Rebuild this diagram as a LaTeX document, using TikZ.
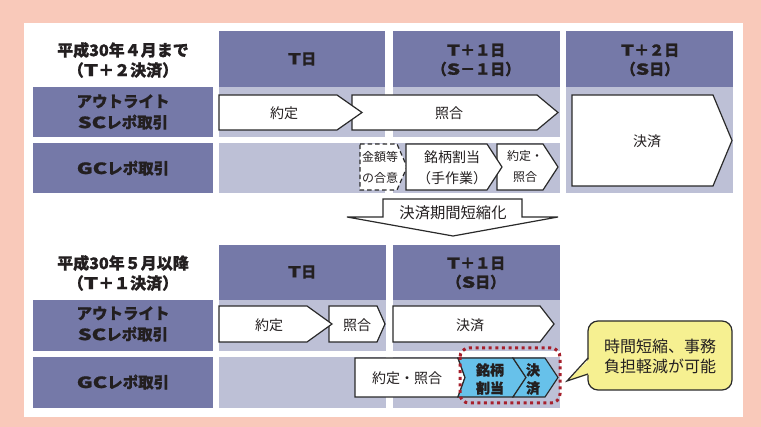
\documentclass[tikz,border=0pt]{standalone}
\usepackage{graphicx}
\usepackage{fontspec}
\setmainfont{Noto Sans CJK JP}[BoldFeatures={FakeBold=0.9}]
\definecolor{pinkc}{HTML}{F9C9BA}
\definecolor{hdrc}{HTML}{7579A8}
\definecolor{bandc}{HTML}{BDC0D6}
\definecolor{txtc}{HTML}{231F20}
\definecolor{linec}{HTML}{2A2A2A}
\definecolor{bluec}{HTML}{67C1EA}
\definecolor{redc}{HTML}{A6202C}
\definecolor{yelc}{HTML}{F6F091}
\newcommand\wl[1]{\scalebox{1.4}[1]{#1}}
\tikzset{
  arrw/.style={fill=white, draw=linec, line width=1.2pt, line join=miter},
  bluearrw/.style={fill=bluec, draw=linec, line width=1.2pt, line join=miter},
  dashbox/.style={fill=white, draw=linec, line width=1.2pt, dash pattern=on 4.5pt off 3pt},
  reddot/.style={draw=redc, line width=3pt, dash pattern=on 3pt off 3.6pt},
  lbl/.style={font=\fontsize{16}{20}\selectfont\bfseries, text=txtc, inner sep=0pt, align=center},
  rlbl/.style={font=\fontsize{15.5}{21}\selectfont\bfseries, text=txtc, inner sep=0pt, align=center},
  hlbl/.style={font=\fontsize{15}{19}\selectfont\bfseries, text=txtc, inner sep=0pt, align=center},
  atxt/.style={font=\fontsize{14}{21}\selectfont, text=txtc, inner sep=0pt, align=center},
  stxt/.style={font=\fontsize{12}{21}\selectfont, text=txtc, inner sep=0pt, align=center},
  btxt/.style={font=\fontsize{14}{18}\selectfont\bfseries, text=txtc, inner sep=0pt, align=center},
  ctxt/.style={font=\fontsize{16}{19.5}\selectfont, text=txtc, inner sep=0pt, align=center},
}
\newcommand\mychev[6][arrw]{\draw[#1] (#2,#5) -- (#3,#5) -- (#4,{(#5+#6)/2}) -- (#3,#6) -- (#2,#6) -- cycle;}
\newcommand\mynotch[7][bluearrw]{\draw[#1] (#2,#6) -- (#4,#6) -- (#5,{(#6+#7)/2}) -- (#4,#7) -- (#2,#7) -- (#3,{(#6+#7)/2}) -- cycle;}
\begin{document}
\begin{tikzpicture}[x=1pt,y=-1pt]
\useasboundingbox (0,0) rectangle (761,427);
\fill[pinkc] (0,0) rectangle (761,427);
\fill[white] (24,23) rectangle (743,417);
% ---------- top section ----------
\fill[hdrc] (219,31) rectangle (385,87);
\fill[hdrc] (393,31) rectangle (560,87);
\fill[hdrc] (566,31) rectangle (733,87);
\fill[bandc] (219,87) rectangle (385,137);
\fill[bandc] (393,87) rectangle (560,137);
\fill[bandc] (219,143) rectangle (385,193);
\fill[bandc] (393,143) rectangle (560,193);
\fill[bandc] (566,87) rectangle (733,193);
\fill[hdrc] (33,87) rectangle (213,137);
\fill[hdrc] (33,143) rectangle (213,193);
\node[lbl] (t1) at (123,60) {平成30年４月まで\\（\wl{T}＋２決済）};
\node[hlbl] (h1) at (302,59) {\wl{T}日};
\node[hlbl] (h2) at (476,60) {\wl{T}＋１日\\（\wl{S}－１日）};
\node[hlbl] (h3) at (650,60) {\wl{T}＋２日\\（\wl{S}日）};
\node[rlbl] (r1) at (123,112) {アウトライト\\\wl{SC}レポ取引};
\node[rlbl] (r2) at (123,168) {\wl{GC}レポ取引};
% row 1 arrows
\mychev{352}{537}{558}{95}{130}
\mychev{219}{337}{362}{95}{130}
\mychev{572}{713}{732}{95}{186}
\node[atxt] (a1) at (284,113) {約定};
\node[atxt] (a2) at (449,113) {照合};
\node[atxt] (a3) at (647,141) {決済};
% row 2 arrows
\draw[dashbox] (360,144) -- (397,144) -- (407,167) -- (397,190) -- (360,190) -- cycle;
\mychev{497}{543}{558}{144}{190}
\mychev{406}{487}{502}{144}{190}
\node[stxt] (a4) at (380,167.5) {金額等\\の合意};
\node[atxt] (a5) at (452,167.5) {銘柄割当\\（手作業）};
\node[stxt] (a6) at (525,166) {約定・\\照合};
% down arrow
\draw[arrw] (383,199) -- (522,199) -- (522,217) -- (558,217) -- (453,236) -- (347,217) -- (383,217) -- cycle;
\node[ctxt, font=\fontsize{15.3}{19}\selectfont] (d1) at (453,213) {決済期間短縮化};
% ---------- bottom section ----------
\fill[hdrc] (219,245) rectangle (386,300);
\fill[hdrc] (393,245) rectangle (560,300);
\fill[bandc] (219,300) rectangle (386,351);
\fill[bandc] (393,300) rectangle (560,351);
\fill[bandc] (219,357) rectangle (386,408);
\fill[bandc] (393,357) rectangle (560,408);
\fill[hdrc] (33,300) rectangle (213,351);
\fill[hdrc] (33,357) rectangle (213,408);
\node[lbl] (t2) at (123,273) {平成30年５月以降\\（\wl{T}＋１決済）};
\node[hlbl] (h4) at (302,272) {\wl{T}日};
\node[hlbl] (h5) at (476,273) {\wl{T}＋１日\\（\wl{S}日）};
\node[rlbl] (r3) at (123,324) {アウトライト\\\wl{SC}レポ取引};
\node[rlbl] (r4) at (123,382) {\wl{GC}レポ取引};
% row 1
\mychev{329}{377}{385}{306}{342}
\mychev{219}{307}{332}{306}{342}
\mychev{393}{540}{554}{306}{342}
\node[atxt] (b1) at (269,325) {約定};
\node[atxt] (b2) at (357,325) {照合};
\node[atxt] (b3) at (470,325) {決済};
% row 2
\mychev{355}{458}{465}{358}{397}
\mynotch{458}{465}{513}{526}{358}{397}
\mynotch{513}{526}{545}{558}{358}{397}
\node[atxt] (b4) at (407,378) {約定・照合};
\node[btxt] (b5) at (490,379) {銘柄\\割当};
\node[btxt] (b6) at (533,379) {決\\済};
\draw[reddot, rounded corners=9pt] (460,348) rectangle (560,403);
% callout
\draw[fill=yelc, draw=linec, line width=1.2pt, rounded corners=10pt] (588,321) rectangle (732,390);
\fill[yelc] (589.5,358.5) -- (567,381) -- (589.5,374.5) -- cycle;
\draw[linec, line width=1.2pt, line join=miter] (588,358) -- (567,381) -- (588,374);
\node[ctxt] (c1) at (660,356.5) {時間短縮、事務\\負担軽減が可能};
\end{tikzpicture}
\end{document}
